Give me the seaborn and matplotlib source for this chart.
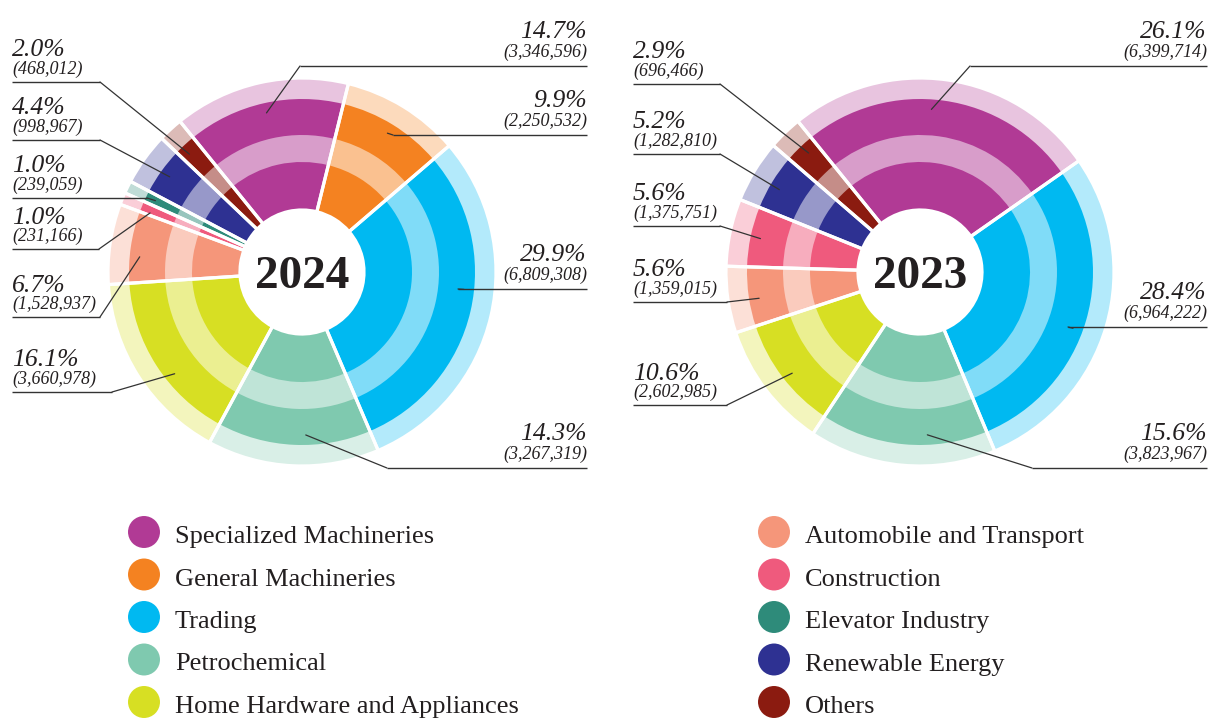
import matplotlib
matplotlib.use("Agg")
import numpy as np
import pandas as pd
import matplotlib.pyplot as plt
import seaborn as sns
from matplotlib.colors import to_rgb

# ------------------------------------------------------------------ data
categories = ["Specialized Machineries", "General Machineries", "Trading",
              "Petrochemical", "Home Hardware and Appliances",
              "Automobile and Transport", "Construction", "Elevator Industry",
              "Renewable Energy", "Others"]
base_colors = ["#B13A95", "#F48221", "#00B9F1", "#7FC9AF", "#D7DF23",
               "#F5967A", "#EF5A7D", "#2E8B7A", "#2E3192", "#8B1B10"]

cats_2024 = ["Specialized Machineries", "General Machineries", "Trading",
             "Petrochemical", "Home Hardware and Appliances",
             "Automobile and Transport", "Construction", "Elevator Industry",
             "Renewable Energy", "Others"]
values_2024 = [3346596, 2250532, 6809308, 3267319, 3660978,
               1528937, 231166, 239059, 998967, 468012]
pct_2024 = ["14.7%", "9.9%", "29.9%", "14.3%", "16.1%",
            "6.7%", "1.0%", "1.0%", "4.4%", "2.0%"]

cats_2023 = ["Specialized Machineries", "Trading", "Petrochemical",
             "Home Hardware and Appliances", "Automobile and Transport",
             "Construction", "Renewable Energy", "Others"]
values_2023 = [6399714, 6964222, 3823967, 2602985,
               1359015, 1375751, 1282810, 696466]
pct_2023 = ["26.1%", "28.4%", "15.6%", "10.6%",
            "5.6%", "5.6%", "5.2%", "2.9%"]

years = ["2024", "2023"]

# ------------------------------------------------------------------ layout (pixels, y from top)
W, H = 1211, 718
R_HOLE, R_INNER, R_MID, R_OUTER, R_PALE = 62, 110, 137, 173, 194
R_TARGET = 163
START = 129

# label: side, underline y, elbow x, angle shift for the leader target
layout = {
    "2024": dict(center=(302, 272), text_left=12, text_right=587, labels={
        "Specialized Machineries": ("R", 66, 300, 0),
        "General Machineries": ("R", 135, 393, 0),
        "Trading": ("R", 289, 458, 7),
        "Petrochemical": ("R", 468, 387, 4),
        "Home Hardware and Appliances": ("L", 392, 112, 6),
        "Automobile and Transport": ("L", 317, 100, 3),
        "Construction": ("L", 249, 99, 1),
        "Elevator Industry": ("L", 198, 147, 0),
        "Renewable Energy": ("L", 140, 100, 0),
        "Others": ("L", 82, 100, 1),
    }),
    "2023": dict(center=(920, 272), text_left=633, text_right=1207, labels={
        "Specialized Machineries": ("R", 66, 970, 4),
        "Trading": ("R", 327, 1068, -4),
        "Petrochemical": ("R", 468, 1032, 8),
        "Home Hardware and Appliances": ("L", 405, 727, 1),
        "Automobile and Transport": ("L", 302, 727, 1),
        "Construction": ("L", 226, 720, 0),
        "Renewable Energy": ("L", 154, 720, 1),
        "Others": ("L", 84, 720, -1),
    }),
}

TEXT = "#231F20"
LINE = "#333333"

sns.set_theme(style="white")
plt.rcParams["font.family"] = ["Liberation Serif", "DejaVu Serif"]

palette = dict(zip(categories, base_colors))


def tint(col, a):
    r = np.array(to_rgb(col))
    return tuple(1 - a * (1 - r))


fig = plt.figure(figsize=(W / 100, H / 100), dpi=100)
ax = fig.add_axes([0, 0, 1, 1])

data = {"2024": (cats_2024, values_2024, pct_2024),
        "2023": (cats_2023, values_2023, pct_2023)}

for year in years:
    cats, vals, pcts = data[year]
    lay = layout[year]
    cx, cyt = lay["center"]
    c = (cx, H - cyt)
    dark = [palette[k] for k in cats]
    light = [tint(palette[k], 0.5) for k in cats]
    pale = [tint(palette[k], 0.3) for k in cats]
    common = dict(center=c, startangle=START, counterclock=False)
    ax.pie(vals, radius=R_PALE, colors=pale,
           wedgeprops=dict(width=R_PALE - R_HOLE, linewidth=0), **common)
    wedges, _ = ax.pie(vals, radius=R_OUTER, colors=dark,
                       wedgeprops=dict(width=R_OUTER - R_HOLE, linewidth=0), **common)
    ax.pie(vals, radius=R_MID, colors=light,
           wedgeprops=dict(width=R_MID - R_INNER, linewidth=0), **common)
    ax.pie(vals, radius=R_PALE,
           wedgeprops=dict(width=R_PALE - R_HOLE, fill=False,
                           edgecolor="white", linewidth=2.3), **common)

    ax.text(c[0], c[1], year, ha="center", va="center_baseline",
            fontsize=34, fontweight="bold", color=TEXT)

    for w, cat, v, p in zip(wedges, cats, vals, pcts):
        side, yu, ex, shift = lay["labels"][cat]
        Yu = H - yu
        ang = np.deg2rad((w.theta1 + w.theta2) / 2 + shift)
        tx = c[0] + R_TARGET * np.cos(ang)
        ty = c[1] + R_TARGET * np.sin(ang)
        if side == "L":
            x0 = lay["text_left"]
            ax.plot([x0, ex], [Yu, Yu], color=LINE, lw=1.0, solid_capstyle="butt")
            ax.text(x0, Yu + 25.5, p, ha="left", va="baseline", fontsize=18.5,
                    style="italic", color=TEXT)
            ax.text(x0, Yu + 8.5, f"({v:,})", ha="left", va="baseline",
                    fontsize=13, style="italic", color=TEXT)
        else:
            x1 = lay["text_right"]
            ax.plot([ex, x1], [Yu, Yu], color=LINE, lw=1.0, solid_capstyle="butt")
            ax.text(x1, Yu + 28, p, ha="right", va="baseline", fontsize=18.5,
                    style="italic", color=TEXT)
            ax.text(x1, Yu + 9, f"({v:,})", ha="right", va="baseline",
                    fontsize=13, style="italic", color=TEXT)
        ax.plot([ex, tx], [Yu, ty], color=LINE, lw=0.9)

# ------------------------------------------------------------------ legend
legend_df = pd.DataFrame({"category": categories,
                          "col": [0] * 5 + [1] * 5,
                          "row": list(range(5)) * 2})
col_x = {0: 144, 1: 774}
legend_df["x"] = legend_df["col"].map(col_x)
legend_df["y"] = H - (532 + legend_df["row"] * 42.5)
sns.scatterplot(data=legend_df, x="x", y="y", hue="category", palette=palette,
                s=530, linewidth=0, legend=False, ax=ax)
for _, r in legend_df.iterrows():
    ax.text(r["x"] + 31, r["y"] - 11, r["category"], ha="left", va="baseline",
            fontsize=19, color=TEXT)

ax.set_xlim(0, W)
ax.set_ylim(0, H)
ax.set_aspect("equal", adjustable="box")
ax.axis("off")
fig.savefig("out.png", dpi=100)
